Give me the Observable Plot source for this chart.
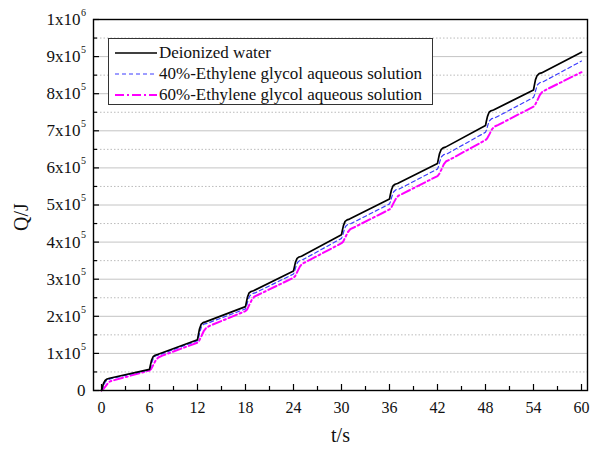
<!DOCTYPE html>
<html>
<head>
<meta charset="utf-8">
<script src="https://cdn.jsdelivr.net/npm/d3@7"></script>
<script src="https://cdn.jsdelivr.net/npm/@observablehq/plot@0.6"></script>
<style>
  html, body { margin: 0; padding: 0; background: #fff; }
  #wrap { position: relative; width: 590px; height: 449px; font-family: "Liberation Serif", "Times New Roman", serif; }
  #legend { position: absolute; left: 108px; top: 38px; width: 325px; height: 67px; border: 1px solid #333; background: #fff; box-sizing: border-box; padding-top: 3px; }
  .row { display: flex; align-items: center; height: 21px; font-size: 17px; color: #111; }
  .row svg { margin-left: 6px; margin-right: 2px; }
</style>
</head>
<body>
<div id="wrap"></div>
<script>
// time (s) and heat Q (kJ)
const tBlack = [0,0.1,0.25,0.45,0.7,1.0,6, 6.1,6.25,6.45,6.7,7.0,12, 12.1,12.25,12.45,12.7,13.0,18, 18.1,18.25,18.45,18.7,19.0,24, 24.1,24.25,24.45,24.7,25.0,30, 30.1,30.25,30.45,30.7,31.0,36, 36.1,36.25,36.45,36.7,37.0,42, 42.1,42.25,42.45,42.7,43.0,48, 48.1,48.25,48.45,48.7,49.0,54, 54.1,54.25,54.45,54.7,55.0,60];
const qBlack = [0,8,19,27,31,33,57, 67,81,91,95,97,137, 149,166,178,183,185,226, 237,252,263,267,269,322, 332,346,356,360,362,420, 431,445,456,460,462,516, 527,541,552,556,558,612, 623,638,649,654,656,714, 725,739,750,754,756,810, 822,838,849,854,856,912];

const tBlue = [0,0.15,0.3,0.5,0.8,1.2,6, 6.15,6.3,6.5,6.8,7.2,12, 12.15,12.3,12.5,12.8,13.2,18, 18.15,18.3,18.5,18.8,19.2,24, 24.15,24.3,24.5,24.8,25.2,30, 30.15,30.3,30.5,30.8,31.2,36, 36.15,36.3,36.5,36.8,37.2,42, 42.15,42.3,42.5,42.8,43.2,48, 48.15,48.3,48.5,48.8,49.2,54, 54.15,54.3,54.5,54.8,55.2,60];
const qBlue = [0,7,15,24,29,32,56, 64,76,88,94,96,134, 143,158,172,179,181,220, 229,242,254,261,263,314, 322,334,345,351,353,410, 418,430,442,448,450,503, 511,523,535,541,543,597, 605,618,630,636,638,696, 704,716,727,733,735,790, 798,811,824,830,832,888];

const tMagenta = [0,0.2,0.5,0.8,1.1,1.6,6, 6.2,6.5,6.8,7.1,7.6,12, 12.2,12.5,12.8,13.1,13.6,18, 18.2,18.5,18.8,19.1,19.6,24, 24.2,24.5,24.8,25.1,25.6,30, 30.2,30.5,30.8,31.1,31.6,36, 36.2,36.5,36.8,37.1,37.6,42, 42.2,42.5,42.8,43.1,43.6,48, 48.2,48.5,48.8,49.1,49.6,54, 54.2,54.5,54.8,55.1,55.6,60];
const qMagenta = [0,3,11,20,25,28,54, 58,70,82,89,94,129, 134,147,161,169,175,214, 218,232,245,253,258,304, 308,321,334,342,347,397, 401,414,427,435,440,488, 492,505,517,525,530,578, 583,596,610,618,623,675, 679,691,704,711,716,765, 770,783,797,805,811,858];

const seriesNames = ["Deionized water", "40%-Ethylene glycol aqueous solution", "60%-Ethylene glycol aqueous solution"];

const xTicks = [0,6,12,18,24,30,36,42,48,54,60];
const xMinorTicks = [3,9,15,21,27,33,39,45,51,57];
const yTicks = [0,1e5,2e5,3e5,4e5,5e5,6e5,7e5,8e5,9e5,1e6];
const yMinorTicks = [5e4,1.5e5,2.5e5,3.5e5,4.5e5,5.5e5,6.5e5,7.5e5,8.5e5,9.5e5];
const yTickMantissa = ["0","1x10","2x10","3x10","4x10","5x10","6x10","7x10","8x10","9x10","1x10"];
const yTickExponent = ["","5","5","5","5","5","5","5","5","5","6"];

const toRows = (ts, qs) => ts.map((t, i) => ({t, q: qs[i] * 1000}));
const black = toRows(tBlack, qBlack);
const blue = toRows(tBlue, qBlue);
const magenta = toRows(tMagenta, qMagenta);

const W = 590, H = 449, mL = 93, mT = 19, mR = 3, mB = 59;
const pw = W - mL - mR, ph = H - mT - mB;
const font = '"Liberation Serif", "Times New Roman", serif';

const yLabelRows = yTicks.map((v, i) => ({v, m: yTickMantissa[i], e: yTickExponent[i]}));

const chart = Plot.plot({
  width: W, height: H,
  marginLeft: mL, marginTop: mT, marginRight: mR, marginBottom: mB,
  style: {fontFamily: font, background: "white", overflow: "visible"},
  x: {domain: [-1, 60.75], axis: null},
  y: {domain: [0, 1e6], axis: null},
  marks: [
    Plot.ruleY(yMinorTicks, {stroke: "#bbb", strokeWidth: 1, strokeDasharray: "1.5,2"}),
    Plot.ruleY(yTicks.slice(1, -1), {stroke: "#c4c4c4", strokeWidth: 1}),
    Plot.line(magenta, {x: "t", y: "q", stroke: "#ff00ff", strokeWidth: 2, strokeDasharray: "9,3,2,3", curve: "linear"}),
    Plot.line(blue, {x: "t", y: "q", stroke: "#3d3dff", strokeWidth: 1.2, strokeDasharray: "4,3", curve: "linear"}),
    Plot.line(black, {x: "t", y: "q", stroke: "#000", strokeWidth: 1.7, curve: "linear"}),
    // inward ticks
    Plot.tickY(yTicks, {y: d => d, stroke: "#000", strokeWidth: 1.2, insetRight: pw - 6}),
    Plot.tickY(yMinorTicks, {y: d => d, stroke: "#000", strokeWidth: 1.2, insetRight: pw - 4}),
    Plot.tickX(xTicks, {x: d => d, stroke: "#000", strokeWidth: 1.2, insetTop: ph - 6}),
    Plot.tickX(xMinorTicks, {x: d => d, stroke: "#000", strokeWidth: 1.2, insetTop: ph - 4}),
    Plot.frame({stroke: "#000", strokeWidth: 1.4}),
    // x tick labels
    Plot.text(xTicks, {x: d => d, frameAnchor: "bottom", dy: 17, text: d => String(d), fontSize: 16, fill: "#111", lineAnchor: "middle"}),
    // y tick labels
    Plot.text(yLabelRows.filter(d => d.e), {y: "v", frameAnchor: "left", dx: -13, text: "m", textAnchor: "end", fontSize: 17, fill: "#111"}),
    Plot.text(yLabelRows.filter(d => d.e), {y: "v", frameAnchor: "left", dx: -12.5, dy: -7, text: "e", textAnchor: "start", fontSize: 10, fill: "#111"}),
    Plot.text(yLabelRows.filter(d => !d.e), {y: "v", frameAnchor: "left", dx: -8, text: "m", textAnchor: "end", fontSize: 17, fill: "#111"}),
    // axis titles
    Plot.text(["t/s"], {frameAnchor: "bottom", dy: 51, text: d => d, fontSize: 20, fill: "#111", textAnchor: "middle"}),
    Plot.text(["Q/J"], {frameAnchor: "left", dx: -72, dy: 12, rotate: -90, text: d => d, fontSize: 20, fill: "#111", textAnchor: "middle"})
  ]
});

const wrap = document.getElementById("wrap");
wrap.appendChild(chart);

const legend = document.createElement("div");
legend.id = "legend";
const styles = [
  {stroke: "#000", width: 1.7, dash: ""},
  {stroke: "#3d3dff", width: 1.2, dash: "4,3"},
  {stroke: "#ff00ff", width: 2, dash: "9,3,2,3"}
];
seriesNames.forEach((name, i) => {
  const row = document.createElement("div");
  row.className = "row";
  const s = styles[i];
  row.innerHTML = `<svg width="42" height="10"><line x1="0" x2="42" y1="5" y2="5" stroke="${s.stroke}" stroke-width="${s.width}" stroke-dasharray="${s.dash}"/></svg><span>${name}</span>`;
  legend.appendChild(row);
});
wrap.appendChild(legend);
</script>
</body>
</html>
